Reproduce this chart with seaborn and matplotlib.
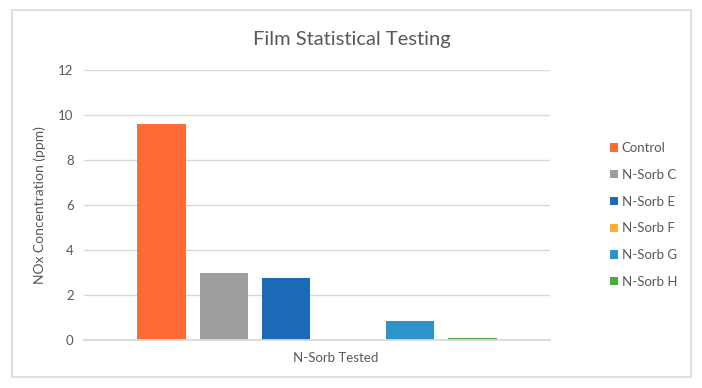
import matplotlib
matplotlib.use("Agg")
import matplotlib.pyplot as plt
import matplotlib.transforms as mtransforms
import seaborn as sns
import pandas as pd
from matplotlib.patches import Rectangle

categories = ["N-Sorb Tested"]
series = ["Control", "N-Sorb C", "N-Sorb E", "N-Sorb F", "N-Sorb G", "N-Sorb H"]
values = [9.6, 2.98, 2.77, 0.0, 0.86, 0.1]
colors = ["#FF6A35", "#9E9E9E", "#1A6AB7", "#FFB02E", "#2E93CB", "#4EA846"]
yticks = [0, 2, 4, 6, 8, 10, 12]

df = pd.DataFrame({"group": categories * len(series), "series": series, "value": values})

sns.set_theme(style="white")
plt.rcParams["font.family"] = ["Lato", "DejaVu Sans"]

fig = plt.figure(figsize=(7.02, 3.88), dpi=100)
ax = fig.add_axes([84 / 702, 1 - 340 / 388, (550 - 84) / 702, (340 - 70) / 388])

sns.barplot(data=df, x="group", y="value", hue="series", palette=colors,
            hue_order=series, saturation=1, gap=0.22, width=0.8, ax=ax,
            linewidth=0, legend=True)

ax.set_ylim(0, 12)
ax.set_xlim(-0.5, 0.5)
ax.set_yticks(yticks)
ax.yaxis.grid(True, color="#D9D9D9", linewidth=1)
ax.set_axisbelow(True)
for s in ["top", "right", "left"]:
    ax.spines[s].set_visible(False)
ax.spines["bottom"].set_color("#D9D9D9")
ax.tick_params(axis="both", length=0, labelsize=9.5, labelcolor="#595959")
ax.tick_params(axis="y", pad=7.5)
ax.tick_params(axis="x", pad=9)
for lbl in ax.get_xticklabels():
    lbl.set_transform(lbl.get_transform() + mtransforms.ScaledTranslation(19 / 100, 0, fig.dpi_scale_trans))
ax.set_xlabel("")
ax.set_ylabel("NOx Concentration (ppm)", fontsize=10, color="#595959")
ax.yaxis.set_label_coords((46 - 84) / 466, 0.5)

handles, labels = ax.get_legend_handles_labels()
ax.get_legend().remove()
fig.legend(handles, labels, loc="center left", bbox_to_anchor=(598 / 702, 1 - 215 / 388),
           frameon=False, fontsize=9.5, labelcolor="#595959", handlelength=0.6,
           handleheight=0.6, handletextpad=0.3, labelspacing=1.12)

fig.text(352 / 702, 1 - 39 / 388, "Film Statistical Testing", ha="center", va="center",
         fontsize=14.5, color="#595959")

fig.patches.append(Rectangle((12 / 702, 1 - 377 / 388), (691 - 12) / 702, (377 - 10) / 388,
                             transform=fig.transFigure, fill=False, edgecolor="#D9D9D9",
                             linewidth=1.2))

fig.savefig("out.png", dpi=100)
